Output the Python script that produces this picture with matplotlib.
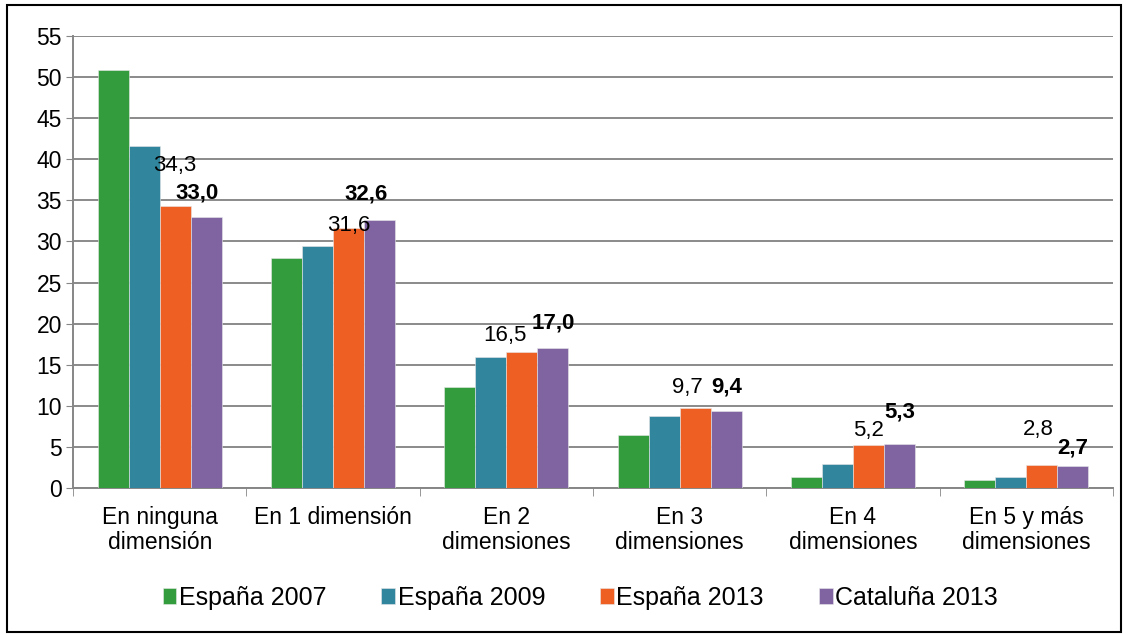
import numpy as np
import matplotlib.pyplot as plt
from matplotlib.patches import Rectangle

plt.rcParams['font.family'] = ['Liberation Sans', 'DejaVu Sans']

categories = ["En ninguna\ndimensión", "En 1 dimensión", "En 2\ndimensiones",
              "En 3\ndimensiones", "En 4\ndimensiones", "En 5 y más\ndimensiones"]
series = ["España 2007", "España 2009", "España 2013", "Cataluña 2013"]
espana_2007 = [50.9, 28.0, 12.3, 6.5, 1.3, 1.0]
espana_2009 = [41.6, 29.5, 15.9, 8.8, 2.9, 1.3]
espana_2013 = [34.3, 31.6, 16.5, 9.7, 5.2, 2.8]
cataluna_2013 = [33.0, 32.6, 17.0, 9.4, 5.3, 2.7]
values = [espana_2007, espana_2009, espana_2013, cataluna_2013]
colors = ["#339C3C", "#31859C", "#EE5F23", "#8064A2"]

# label offsets (px) for the annotated series, hand-tuned to the original
off_2013 = [(0, 41), (0, 3), (-17, 17), (-8, 21), (0, 15), (-4, 35)]
off_cat = [(-9, 24), (-14, 26), (0, 25), (0, 24), (0, 32), (0, 18)]

fig = plt.figure(figsize=(11.29, 6.36), dpi=100)
ax = fig.add_axes([0.0647, 0.2327, 0.9211, 0.7107])

x = np.arange(len(categories))
w = 0.179
for i, (vals, col, name) in enumerate(zip(values, colors, series)):
    ax.bar(x + (i - 1.5) * w, vals, w, color=col, label=name,
           edgecolor="#e8e8e8", linewidth=0.4, zorder=3)


def fmt(v):
    return f"{v:.1f}".replace(".", ",")


px = 0.72
for j in range(len(categories)):
    dx, dy = off_2013[j]
    ax.annotate(fmt(espana_2013[j]), (x[j] + 0.5 * w, espana_2013[j]),
                xytext=(dx * px, dy * px), textcoords="offset points",
                ha="center", va="center", fontsize=16, zorder=5)
    dx, dy = off_cat[j]
    ax.annotate(fmt(cataluna_2013[j]), (x[j] + 1.5 * w, cataluna_2013[j]),
                xytext=(dx * px, dy * px), textcoords="offset points",
                ha="center", va="center", fontsize=16, fontweight="bold", zorder=5)

ax.set_xlim(-0.5, len(categories) - 0.5)
ax.set_ylim(0, 55)
ax.set_yticks(range(0, 56, 5))
ax.tick_params(axis="y", labelsize=16.5, length=5, color="#868686", pad=3)
ax.set_xticks(x)
ax.set_xticklabels(categories, fontsize=16.5, linespacing=1.1)
ax.set_xticks(np.arange(-0.5, len(categories), 1), minor=True)
ax.tick_params(axis="x", which="major", length=0, pad=13)
ax.tick_params(axis="x", which="minor", length=6, color="#868686")
ax.grid(axis="y", color="#8a8a8a", linewidth=1.4, zorder=0)
ax.set_axisbelow(True)
for s in ["top", "right"]:
    ax.spines[s].set_visible(False)
for s in ["left", "bottom"]:
    ax.spines[s].set_color("#868686")
    ax.spines[s].set_linewidth(1.4)

fig.legend(loc="center", bbox_to_anchor=(0.514, 0.06), ncol=4, frameon=False,
           fontsize=18, handlelength=0.55, handleheight=0.55, handletextpad=0.1,
           columnspacing=2.2)

fig.patches.append(Rectangle((7 / 1129, 4 / 636), 1114 / 1129, 627 / 636,
                             transform=fig.transFigure, fill=False,
                             edgecolor="black", linewidth=1.5))

fig.savefig("out.png", dpi=100)
